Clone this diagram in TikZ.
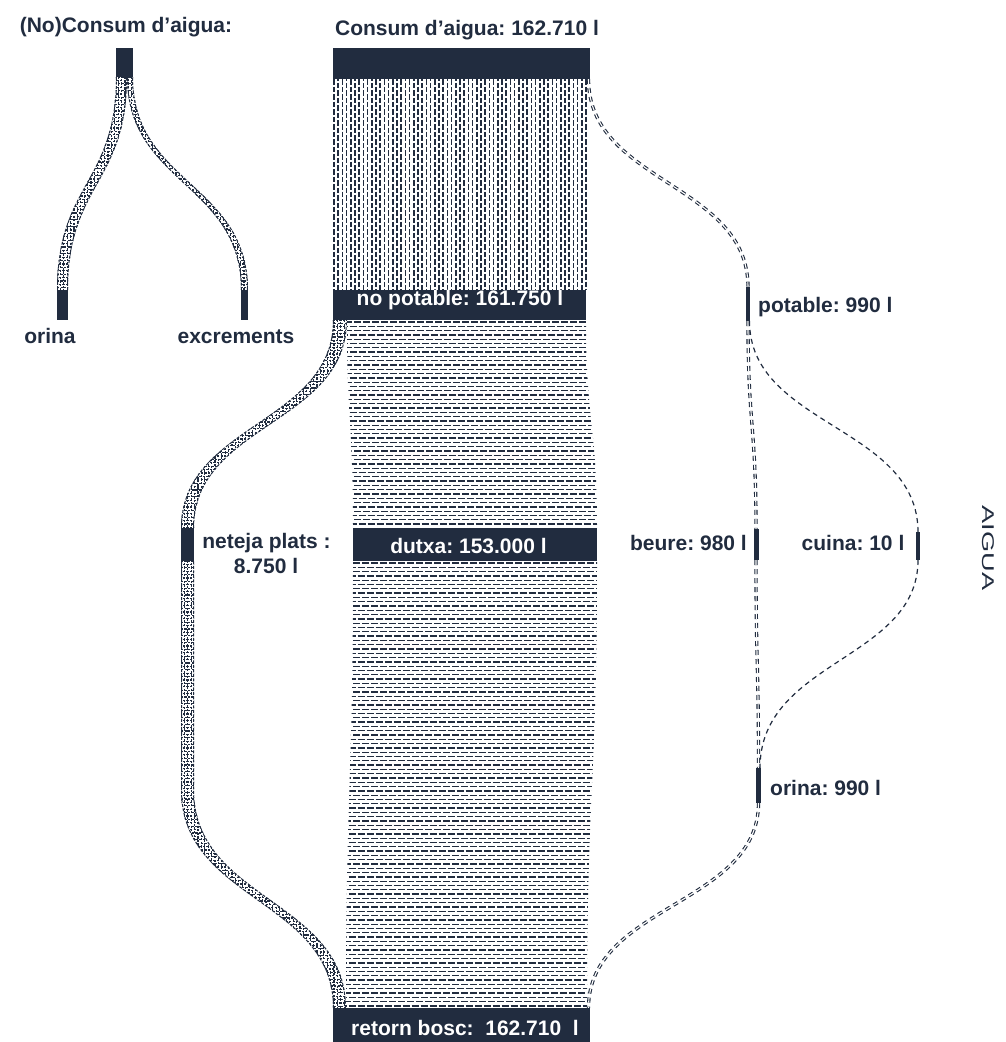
\documentclass[tikz,border=0pt]{standalone}
\usepackage{fontspec}
\setmainfont{Liberation Sans}
\usepackage{graphicx}
\frenchspacing
\definecolor{navy}{HTML}{212C3F}
\newcommand\patV[5]{\foreach \i in {0,...,#2}{\pgfmathsetmacro\xx{#1+#5*\i}\pgfmathsetmacro\ph{mod(\i,2)*3.75}\draw[pv,dash phase=\ph pt] (\xx,#3)--(\xx,#4);}}
\newcommand\patH[5]{\foreach \i in {0,...,#2}{\pgfmathsetmacro\yy{#1+#5*\i}\pgfmathsetmacro\ph{mod(\i,2)*4.5}\draw[ph,dash phase=\ph pt] (#3,\yy)--(#4,\yy);}}
\newcommand\patC[6]{\foreach \i in {0,...,#5}{\pgfmathsetmacro\xx{#1+3.4*\i}\pgfmathsetmacro\ph{mod(\i,2)*1.8}\draw[pc,dash phase=\ph pt] (\xx,#3)--(\xx,#4);}%
\foreach \i in {0,...,#6}{\pgfmathsetmacro\yy{#3+3.4*\i}\pgfmathsetmacro\ph{mod(\i,2)*1.8}\draw[pc,dash phase=\ph pt] (#1,\yy)--(#2,\yy);}}
\begin{document}
\begin{tikzpicture}[x=1pt,y=-1pt,
 bar/.style={fill=navy, draw=none, inner sep=0pt, outer sep=0pt},
 lbl/.style={font=\fontsize{21}{21}\selectfont\bfseries, text=navy, inner sep=0pt, anchor=base},
 wlbl/.style={lbl, text=white},
 pv/.style={navy, line width=1.6pt, dash pattern=on 5.5pt off 2pt},
 ph/.style={navy, line width=1.3pt, dash pattern=on 7pt off 2pt},
 pc/.style={navy, line width=1.1pt, dash pattern=on 2.2pt off 1.4pt},
 edge/.style={navy, line width=1pt, dash pattern=on 3pt off 1.5pt},
 dbl/.style={draw=navy, line width=1.1pt, double=white, double distance=1.1pt, dash pattern=on 5pt off 4pt},
 sgl/.style={draw=navy, line width=1.2pt, dash pattern=on 5pt off 4pt},
]
\useasboundingbox (0,0) rectangle (1005,1042);

% ---- flows: small left diagram
\begin{scope}
\clip (116,77) .. controls (116,183.5) and (57,183.5) .. (57,290) -- (68,290) .. controls (68,183.5) and (127,183.5) .. (127,77) -- cycle
      (127,77) .. controls (127,183.5) and (241,183.5) .. (241,290) -- (248,290) .. controls (248,183.5) and (133,183.5) .. (133,77) -- cycle;
\patC{57}{250}{77}{292}{57}{64}
\end{scope}
\draw[edge] (116.5,77) .. controls (116.5,183.5) and (57.5,183.5) .. (57.5,290);
\draw[edge] (67.5,290) .. controls (67.5,183.5) and (126.5,183.5) .. (126.5,77);
\draw[edge] (127.5,77) .. controls (127.5,183.5) and (241.5,183.5) .. (241.5,290);
\draw[edge] (247.5,290) .. controls (247.5,183.5) and (132.5,183.5) .. (132.5,77);

% ---- flows: main
\begin{scope}
\clip (333,79) rectangle (587,290);
\patV{334}{62}{79}{290}{4.2}
\end{scope}
\draw[dbl] (588.5,79) .. controls (588.5,183) and (748,183) .. (748,287);

\begin{scope}
\clip (333,320) .. controls (333,424) and (181,424) .. (181,528) -- (194,528) .. controls (194,424) and (347,424) .. (347,320) -- cycle;
\patC{181}{348}{320}{530}{50}{62}
\end{scope}
\draw[edge] (333.5,320) .. controls (333.5,424) and (181.5,424) .. (181.5,528);
\draw[edge] (193.5,528) .. controls (193.5,424) and (346.5,424) .. (346.5,320);
\begin{scope}
\clip (347,320) .. controls (347,424) and (353,424) .. (353,528) -- (597,528) .. controls (597,424) and (586,424) .. (586,320) -- cycle;
\patH{322}{48}{345}{600}{4.3}
\end{scope}

\begin{scope}
\clip (181,561) -- (181,790) .. controls (181,900) and (333,900) .. (333,1008) -- (346,1008) .. controls (346,900) and (194,900) .. (194,790) -- (194,561) -- cycle;
\patC{181}{348}{561}{1010}{50}{133}
\end{scope}
\draw[edge] (181.5,561) -- (181.5,790) .. controls (181.5,900) and (333.5,900) .. (333.5,1008);
\draw[edge] (345.5,1008) .. controls (345.5,900) and (193.5,900) .. (193.5,790) -- (193.5,561);
\begin{scope}
\clip (353,561) .. controls (353,785) and (346,785) .. (346,1008) -- (587,1008) .. controls (587,785) and (597,785) .. (597,561) -- cycle;
\patH{563}{104}{344}{600}{4.3}
\end{scope}

\draw[dbl] (748,321) .. controls (748,425) and (756,425) .. (756,529);
\draw[sgl] (749.5,321) .. controls (749.5,426) and (918,426) .. (918,532);
\draw[dbl] (756,560) .. controls (756,664) and (758.5,664) .. (758.5,768);
\draw[sgl] (918,560) .. controls (918,660) and (760,660) .. (760,768);
\draw[dbl] (758.5,803) .. controls (758.5,905) and (588.5,905) .. (588.5,1008);

% ---- bars
\node[bar, minimum width=17pt, minimum height=29pt] (ncTop) at (124.5,62.5) {};
\node[bar, minimum width=11pt, minimum height=30pt] (ncOr) at (62.5,305) {};
\node[bar, minimum width=7pt, minimum height=30pt] (ncEx) at (244.5,305) {};
\node[bar, minimum width=257pt, minimum height=31pt] (top) at (461.5,63.5) {};
\node[bar, minimum width=253pt, minimum height=30pt] (np) at (459.5,305) {};
\node[bar, minimum width=4pt, minimum height=34pt] (pot) at (748,304) {};
\node[bar, minimum width=13pt, minimum height=33pt] (net) at (187.5,544.5) {};
\node[bar, minimum width=244pt, minimum height=33pt] (dut) at (475,544.5) {};
\node[bar, minimum width=5pt, minimum height=31pt] (beu) at (756,544.5) {};
\node[bar, minimum width=4pt, minimum height=28pt] (cui) at (918,546) {};
\node[bar, minimum width=5pt, minimum height=35pt] (ori) at (758.5,785.5) {};
\node[bar, minimum width=257pt, minimum height=34pt] (ret) at (461.5,1025) {};

% ---- labels
\node[lbl] (t1) at (126,32) {(No)Consum d’aigua:};
\node[lbl] (t2) at (467,35) {Consum d’aigua: 162.710 l};
\node[lbl] (lOr) at (50,343) {orina};
\node[lbl] (lEx) at (236,343) {excrements};
\node[wlbl] (lNp) at (460,305) {no potable: 161.750 l};
\node[lbl, anchor=base west] (lPot) at (758,312) {potable: 990 l};
\node[lbl] (lNet1) at (266.5,548) {neteja plats :};
\node[lbl] (lNet2) at (266,573) {8.750 l};
\node[wlbl] (lDut) at (468.5,553) {dutxa: 153.000 l};
\node[lbl, anchor=base east] (lBeu) at (747,550) {beure: 980 l};
\node[lbl] (lCui) at (853,550) {cuina: 10 l};
\node[lbl, anchor=base west] (lOri) at (770,795) {orina: 990 l};
\node[wlbl] (lRet) at (465,1035) {retorn bosc:~ 162.710~ l};
\node[text=navy, rotate=-90, inner sep=0pt] (aig) at (988,548) {\scalebox{1.6}[1]{\fontsize{17}{17}\selectfont AIGUA}};
\end{tikzpicture}
\end{document}
